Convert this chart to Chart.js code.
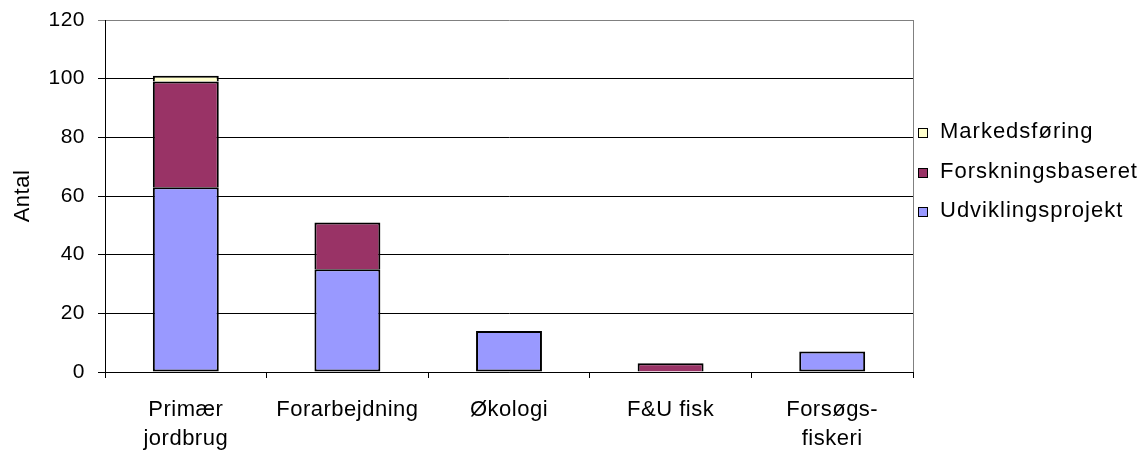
<!DOCTYPE html>
<html>
<head>
<meta charset="utf-8">
<script src="https://cdn.jsdelivr.net/npm/chart.js@4/dist/chart.umd.min.js"></script>
<style>
  html, body { margin: 0; padding: 0; background: #fff; }
  #wrap { width: 1148px; height: 453px; }
</style>
</head>
<body>
<div id="wrap"><canvas id="myChart" width="1148" height="453"></canvas></div>
<script>
// data
const categories = [["Primær", "jordbrug"], "Forarbejdning", "Økologi", "F&U fisk", ["Forsøgs-", "fiskeri"]];
const udvikling = [63, 35, 14, null, 7];
const forskning = [36, 16, null, 3, null];
const markedsforing = [2, null, null, null, null];
const yTicks = [0, 20, 40, 60, 80, 100, 120];

const FONT = "'Liberation Sans', Arial, sans-serif";

// slightly wide letter spacing like the original + plot border + legend
const excelLook = {
    id: "excelLook",
    beforeDraw(chart) {
        if ("letterSpacing" in chart.ctx) chart.ctx.letterSpacing = "0.5px";
    },
    afterDraw(chart) {
        const ctx = chart.ctx;
        const a = chart.chartArea;
        ctx.save();
        // right border of the plot area
        ctx.strokeStyle = "#808080";
        ctx.lineWidth = 1;
        ctx.beginPath();
        ctx.moveTo(Math.round(a.right) + 0.5, a.top);
        ctx.lineTo(Math.round(a.right) + 0.5, a.bottom);
        ctx.stroke();

        // legend, reversed order like the original
        const items = chart.data.datasets.slice().reverse();
        const rowY = [133, 173, 212];
        if ("letterSpacing" in ctx) ctx.letterSpacing = "1px";
        ctx.font = "22px " + FONT;
        ctx.textBaseline = "middle";
        ctx.textAlign = "left";
        ctx.lineWidth = 1;
        items.forEach((ds, i) => {
            const y = rowY[i];
            ctx.fillStyle = ds.backgroundColor;
            ctx.fillRect(918.5, y - 4.5, 9, 9);
            ctx.strokeStyle = "#000";
            ctx.strokeRect(918.5, y - 4.5, 9, 9);
            ctx.fillStyle = "#000";
            ctx.fillText(ds.label, 940, y - 1);
        });
        ctx.restore();
    }
};

Chart.defaults.font.family = FONT;
Chart.defaults.font.size = 22;
Chart.defaults.color = "#000";

const ctx = document.getElementById("myChart").getContext("2d");
new Chart(ctx, {
    type: "bar",
    data: {
        labels: categories,
        datasets: [
            { label: "Udviklingsprojekt", data: udvikling, backgroundColor: "#9999FF", borderSkipped: false },
            { label: "Forskningsbaseret", data: forskning, backgroundColor: "#993366", borderSkipped: "bottom" },
            { label: "Markedsføring", data: markedsforing, backgroundColor: "#FFFFCC", borderSkipped: "bottom" }
        ]
    },
    options: {
        responsive: false,
        animation: false,
        devicePixelRatio: 1,
        layout: { padding: { top: 20, right: 235, left: 0, bottom: 0 } },
        datasets: {
            bar: {
                borderColor: "#000",
                borderWidth: 2,
                barPercentage: 0.408,
                categoryPercentage: 1
            }
        },
        plugins: {
            legend: { display: false },
            tooltip: { enabled: false }
        },
        scales: {
            x: {
                stacked: true,
                afterFit: s => { s.height = 81; s.paddingLeft = 0; s.paddingRight = 0; },
                border: { color: "#000", width: 1 },
                grid: {
                    offset: true,
                    drawOnChartArea: false,
                    drawTicks: true,
                    tickLength: 6,
                    color: "#000"
                },
                ticks: {
                    padding: 18,
                    maxRotation: 0,
                    autoSkip: false,
                    font: { size: 22, lineHeight: 1.3 }
                }
            },
            y: {
                stacked: true,
                min: 0,
                max: 120,
                afterFit: s => { s.width = 105; s.paddingTop = 0; s.paddingBottom = 0; },
                afterBuildTicks: s => { s.ticks = yTicks.map(v => ({ value: v })); },
                border: { color: "#000", width: 1 },
                grid: {
                    color: c => (c.tick && c.tick.value === 120 ? "#808080" : "#000"),
                    drawTicks: true,
                    tickLength: 7
                },
                ticks: { padding: 13, font: { size: 21 } },
                title: {
                    display: true,
                    text: "Antal",
                    font: { size: 22 },
                    padding: { top: 10, bottom: 0 }
                }
            }
        }
    },
    plugins: [excelLook]
});
</script>
</body>
</html>
